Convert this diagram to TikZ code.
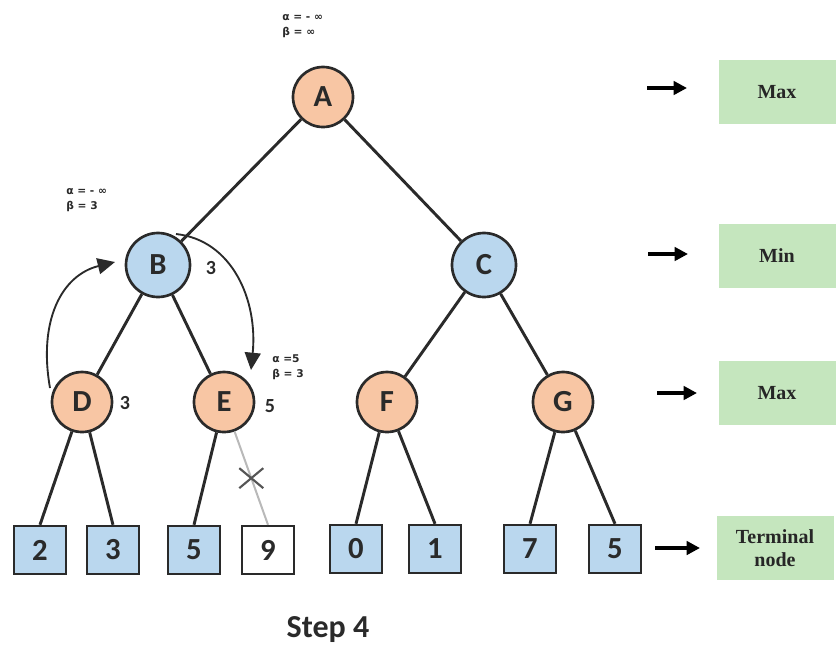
\documentclass[tikz,border=0pt]{standalone}
\usepackage{fontspec}
\setmainfont{Carlito}
\newfontfamily\serifbox{Liberation Serif}
\newfontfamily\greekfont{DejaVu Sans}
\usetikzlibrary{arrows.meta}
\definecolor{peach}{HTML}{F8C6A4}
\definecolor{sky}{HTML}{BAD7EE}
\definecolor{mint}{HTML}{C5E6BE}
\definecolor{ink}{HTML}{2A2A2A}
\tikzset{
  maxnode/.style={circle, draw=ink, line width=2pt, fill=peach, minimum size=60pt*0.75,
    inner sep=0pt, font=\fontsize{23}{23}\selectfont\bfseries, text=ink},
  minnode/.style={maxnode, fill=sky, minimum size=64pt*0.75},
  leaf/.style={rectangle, draw=ink, line width=1.8pt, fill=sky, minimum width=52pt*0.75,
    minimum height=48pt*0.75, inner sep=0pt, font=\fontsize{23}{23}\selectfont\bfseries, text=ink},
  cutleaf/.style={leaf, fill=white},
  edge/.style={draw=ink, line width=2.2pt},
  cutedge/.style={draw=gray!55, line width=1.5pt},
  levelbox/.style={rectangle, fill=mint, minimum width=117pt*0.75, minimum height=64pt*0.75,
    inner sep=1pt, font=\serifbox\fontsize{15}{17}\selectfont\bfseries, text=black!85,
    align=center},
  levelarrow/.style={draw=black, line width=2.8pt, -{Triangle[length=10pt,width=10pt]}},
  value/.style={font=\fontsize{15}{15}\selectfont\bfseries, text=ink},
  bound/.style={font=\greekfont\fontsize{8}{11}\selectfont\bfseries, text=ink, align=left,
    inner sep=0pt, anchor=west},
  pass/.style={draw=ink, line width=1.4pt, -{Triangle[length=13pt,width=12pt]}},
}
\begin{document}
\begin{tikzpicture}[x=0.75pt,y=-0.75pt]
\useasboundingbox (0,0) rectangle (839,651);

% game tree
\node[maxnode] (A) at (323,97) {A};
\node[minnode] (B) at (158,265) {B};
\node[minnode] (C) at (484,265) {C};
\node[maxnode] (D) at (82,402) {D};
\node[maxnode] (E) at (224,402) {E};
\node[maxnode] (F) at (387,402) {F};
\node[maxnode] (G) at (563,402) {G};

\node[leaf] (l1) at (40,550) {2};
\node[leaf] (l2) at (113,550) {3};
\node[leaf] (l3) at (194,550) {5};
\node[cutleaf] (l4) at (268,550) {9};
\node[leaf] (l5) at (356,549) {0};
\node[leaf] (l6) at (435,549) {1};
\node[leaf] (l7) at (530,549) {7};
\node[leaf] (l8) at (615,549) {5};

\draw[edge] (A) -- (B);
\draw[edge] (A) -- (C);
\draw[edge] (B) -- (D);
\draw[edge] (B) -- (E);
\draw[edge] (C) -- (F);
\draw[edge] (C) -- (G);
\draw[edge] (D) -- (l1.north);
\draw[edge] (D) -- (l2.north);
\draw[edge] (E) -- (l3.north);
\draw[cutedge] (E) -- (l4.north) coordinate[pos=0.5] (cut);
\draw[draw=ink!80, line width=1.6pt] ([shift={(-12,-10)}]cut) -- ([shift={(12,10)}]cut)
  ([shift={(-12,10)}]cut) -- ([shift={(12,-10)}]cut);
\draw[edge] (F) -- (l5.north);
\draw[edge] (F) -- (l6.north);
\draw[edge] (G) -- (l7.north);
\draw[edge] (G) -- (l8.north);

% backed-up values
\node[value] (vB) at (211,268) {3};
\node[value] (vD) at (125,403) {3};
\node[value] (vE) at (270,406) {5};

% alpha-beta bounds
\node[bound] (bA) at (282,26) {α = - ∞\\β = ∞};
\node[bound] (bB) at (66,200) {α = - ∞\\β = 3};
\node[bound] (bE) at (272,367) {α =5\\β = 3};

% value passing arrows
\coordinate (dtop) at (50,388);
\coordinate (btop) at (176,234);
\draw[pass] (dtop) .. controls (38,320) and (62,275) .. (115,262);
\draw[pass] (btop) .. controls (232,240) and (258,300) .. (251,370);

% level legend
\node[levelbox] (kA) at (777,92) {Max};
\node[levelbox] (kB) at (777,256) {Min};
\node[levelbox] (kD) at (777,393) {Max};
\node[levelbox] (kL) at (775,548) {Terminal\\node};
\coordinate (sA) at (647,88);
\coordinate (sB) at (648,254);
\coordinate (sD) at (657,393);
\coordinate (sL) at (655,548);
\draw[levelarrow] (sA) -- ++(40,0);
\draw[levelarrow] (sB) -- ++(40,0);
\draw[levelarrow] (sD) -- ++(40,0);
\draw[levelarrow] (sL) -- ++(45,0);

% caption
\node[font=\fontsize{24}{24}\selectfont\bfseries, text=ink] (cap) at (328,630) {Step 4};
\end{tikzpicture}
\end{document}
